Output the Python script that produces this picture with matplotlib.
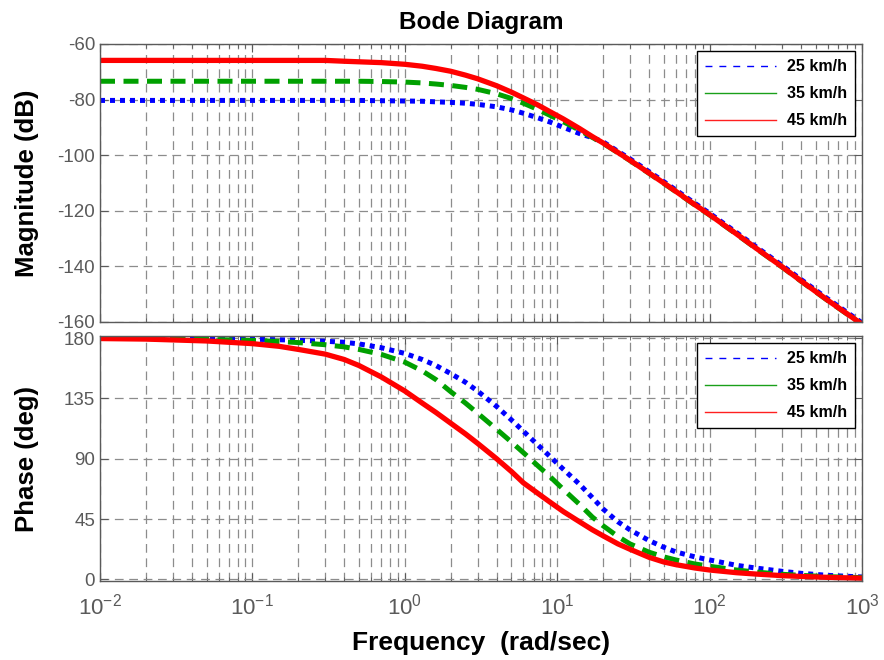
import numpy as np
import matplotlib
matplotlib.use("Agg")
import matplotlib.pyplot as plt
from matplotlib.lines import Line2D

plt.rcParams['font.family'] = ['Liberation Sans', 'DejaVu Sans']
plt.rcParams['mathtext.fontset'] = 'custom'
plt.rcParams['mathtext.rm'] = 'Liberation Sans'
plt.rcParams['mathtext.default'] = 'regular'
plt.rcParams['axes.unicode_minus'] = False

# frequency points (rad/sec)
w = [0.01, 0.02, 0.05, 0.1, 0.15, 0.2, 0.3, 0.4, 0.5, 0.7, 1.0, 1.3, 1.6, 2.0,
     2.5, 3.0, 4.0, 5.0, 6.0, 7.5, 9.0, 11, 14, 17, 20, 25, 30, 40, 50, 60, 80,
     100, 150, 200, 300, 400, 600, 1000]

labels = ["25 km/h", "35 km/h", "45 km/h"]

mag_25 = [-80.3, -80.3, -80.3, -80.3, -80.3, -80.3, -80.3, -80.3, -80.3, -80.4,
          -80.5, -80.6, -80.8, -81.0, -81.3, -81.7, -82.6, -83.7, -84.9, -86.6,
          -88.1, -90.0, -92.2, -93.7, -95.2, -98.6, -101.3, -105.9, -109.5,
          -112.5, -117.3, -120.9, -127.8, -132.8, -139.7, -144.8, -151.8,
          -160.3]
mag_35 = [-73.4, -73.4, -73.4, -73.4, -73.4, -73.4, -73.4, -73.4, -73.4, -73.5,
          -73.7, -74.0, -74.4, -74.9, -75.6, -76.3, -77.9, -79.6, -81.3, -83.6,
          -85.7, -88.0, -91.0, -93.6, -95.7, -99.1, -101.9, -106.5, -110.1,
          -113.1, -117.9, -121.5, -128.4, -133.4, -140.3, -145.4, -152.4,
          -160.9]
mag_45 = [-65.9, -65.9, -65.9, -65.9, -65.9, -65.9, -65.9, -66.2, -66.4, -66.7,
          -67.3, -68.0, -68.8, -69.8, -71.2, -72.5, -75.0, -77.3, -79.4, -82.0,
          -84.4, -87.0, -90.4, -93.3, -95.6, -99.0, -101.8, -106.4, -110.0,
          -113.0, -117.8, -121.4, -128.3, -133.3, -140.2, -145.3, -152.3,
          -160.8]

ph_25 = [179.9, 179.8, 179.5, 179.1, 178.7, 178.3, 177.6, 176.8, 175.6, 172.8,
         168.5, 164.0, 159.5, 153.5, 147.0, 140.5, 129.0, 119.0, 110.5, 100.0,
         91.5, 82.0, 71.0, 61.0, 52.5, 43.0, 37.0, 29.0, 24.0, 20.5, 16.8,
         14.5, 10.5, 8.5, 6.0, 4.5, 3.0, 1.8]
ph_35 = [179.8, 179.6, 179.0, 178.2, 177.4, 176.6, 175.0, 173.4, 171.5, 167.8,
         162.0, 155.5, 149.0, 140.0, 131.5, 124.0, 112.0, 102.5, 94.5, 84.5,
         76.5, 67.0, 56.0, 46.5, 40.0, 32.0, 26.5, 20.3, 16.8, 14.5, 11.5,
         9.8, 7.0, 5.5, 3.8, 3.0, 2.0, 1.3]
ph_45 = [179.6, 179.2, 177.8, 175.8, 173.8, 171.5, 168.0, 164.0, 159.5, 151.0,
         140.5, 131.5, 124.5, 116.5, 108.5, 101.5, 90.0, 80.5, 72.0, 64.0,
         57.5, 50.5, 43.0, 37.0, 32.5, 26.5, 22.5, 16.5, 13.0, 11.0, 8.5,
         7.0, 5.0, 4.0, 2.8, 2.2, 1.5, 0.9]

gray = '#5a5a5a'
grid_kw = dict(color='#8c8c8c', linestyle=(0, (7, 4.5)), linewidth=0.9)

fig = plt.figure(figsize=(8.84, 6.6), dpi=100)
ax1 = fig.add_axes([100 / 884, 1 - 322 / 660, 762 / 884, 278 / 660])
ax2 = fig.add_axes([100 / 884, 1 - 581 / 660, 762 / 884, 245 / 660])

styles = [
    dict(color='#0000ff', lw=3.6, dashes=(1, 1), dash_capstyle='butt'),
    dict(color='#00a000', lw=3.6, dashes=(3, 1.7), dash_capstyle='butt'),
    dict(color='#ff0000', lw=3.8, linestyle='-'),
]

for mags, st in zip([mag_25, mag_35, mag_45], styles):
    ax1.semilogx(w, mags, **st)
for phs, st in zip([ph_25, ph_35, ph_45], styles):
    ax2.semilogx(w, phs, **st)

ax1.set_ylim(-160, -60)
ax1.set_yticks([-160, -140, -120, -100, -80, -60])
ax2.set_ylim(-1.2, 181.5)
ax2.set_yticks([0, 45, 90, 135, 180])

for ax in (ax1, ax2):
    ax.set_xlim(1e-2, 1e3)
    ax.set_xticks([1e-2, 1e-1, 1e0, 1e1, 1e2, 1e3])
    ax.grid(True, which='major', axis='both', **grid_kw)
    ax.grid(True, which='minor', axis='x', **grid_kw)
    ax.tick_params(which='both', direction='in', top=True, right=True,
                   colors=gray, labelsize=13.5)
    ax.tick_params(which='major', length=6)
    ax.tick_params(which='minor', length=3)
    for sp in ax.spines.values():
        sp.set_color(gray)
        sp.set_linewidth(1.0)

ax1.tick_params(labelbottom=False)
ax2.tick_params(axis='x', labelsize=16, pad=9)

handles = [Line2D([], [], color='#0000ff', lw=1, linestyle=(0, (5, 5))),
           Line2D([], [], color='#1aa01a', lw=1),
           Line2D([], [], color='#ff2020', lw=1)]
for ax in (ax1, ax2):
    leg = ax.legend(handles, labels, loc='upper right', fancybox=False,
                    edgecolor='black', framealpha=1, handlelength=4.4,
                    prop=dict(weight='bold', size=11.5), borderaxespad=0.45,
                    labelspacing=0.75, handletextpad=0.7, borderpad=0.5)
    leg.get_frame().set_linewidth(1.0)

ax1.set_title('Bode Diagram', fontsize=17.5, fontweight='bold', pad=11)
ax1.set_ylabel('Magnitude (dB)', fontsize=18.5, fontweight='bold')
ax2.set_ylabel('Phase (deg)', fontsize=18.5, fontweight='bold')
ax2.set_xlabel('Frequency  (rad/sec)', fontsize=19, fontweight='bold',
               labelpad=8)
ax1.yaxis.set_label_coords(-0.08, 0.5)
ax2.yaxis.set_label_coords(-0.08, 0.5)

fig.savefig('out.png', dpi=100)
